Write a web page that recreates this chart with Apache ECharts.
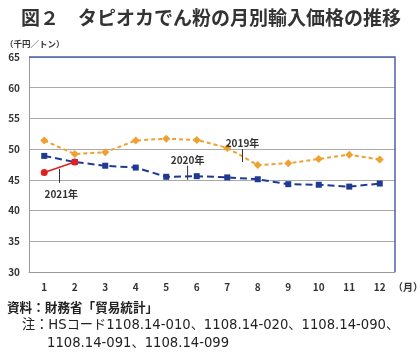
<!DOCTYPE html>
<html><head><meta charset="utf-8">
<script src="https://cdn.jsdelivr.net/npm/echarts@6/dist/echarts.min.js"></script>
<style>html,body{margin:0;padding:0;background:#fff}#c{width:420px;height:354px}</style>
</head><body><div id="c"></div>
<script>
const months = ['1','2','3','4','5','6','7','8','9','10','11','12'];
const y2019 = [51.4, 49.2, 49.5, 51.4, 51.7, 51.5, 50.2, 47.4, 47.7, 48.4, 49.1, 48.3];
const y2020 = [48.9, 47.9, 47.3, 47.0, 45.5, 45.6, 45.4, 45.1, 44.3, 44.2, 43.9, 44.4];
const y2021 = [46.2, 47.9];
const yTicks = [30, 35, 40, 45, 50, 55, 60, 65];
const title = '図２　タピオカでん粉の月別輸入価格の推移';
const unit = '（千円／トン）';
const source = '資料：財務省「貿易統計」';
const note1 = '注：HSコード1108.14-010、1108.14-020、1108.14-090、';
const note2 = '1108.14-091、1108.14-099';
const notes = [
  {text:'2019年', idx:6.5, v1:50.0, v2:47.9},
  {text:'2020年', idx:4.7, v1:47.3, v2:45.0},
  {text:'2021年', idx:0.5, v1:46.8, v2:44.5}
];
const FONT = '"Noto Sans CJK JP","Noto Sans",sans-serif';
const FOOT = '"DejaVu Sans","Noto Sans CJK JP",sans-serif';
const chart = echarts.init(document.getElementById('c'));
chart.setOption({
  animation:false,
  grid:{left:29,right:25,top:57,bottom:82},
  xAxis:{type:'category',data:months,boundaryGap:true,
    axisLine:{lineStyle:{color:'#999',width:1}},axisTick:{show:false},
    axisLabel:{color:'#333',fontSize:10,fontWeight:'bold',fontFamily:FONT,margin:10}},
  yAxis:{type:'value',min:yTicks[0],max:yTicks[yTicks.length-1],interval:5,
    axisLine:{show:true,lineStyle:{color:'#999'}},axisTick:{show:false},
    splitLine:{lineStyle:{color:'#aaa',width:1}},
    axisLabel:{color:'#333',fontSize:10,fontWeight:'bold',fontFamily:FONT,margin:9}},
  series:[
    {name:'2019',type:'line',data:y2019,symbol:'diamond',symbolSize:8,
     itemStyle:{color:'#f0a030'},lineStyle:{color:'#f0a030',width:2,type:[4,3]}},
    {name:'2020',type:'line',data:y2020,symbol:'rect',symbolSize:6,
     itemStyle:{color:'#1f3a93'},lineStyle:{color:'#1f3a93',width:2,type:[7,4]}},
    {name:'2021',type:'line',data:y2021,symbol:'circle',symbolSize:7,
     itemStyle:{color:'#e02020'},lineStyle:{color:'#e02020',width:1.5}}
  ]
});
const g = [];
const p65a = chart.convertToPixel({xAxisIndex:0,yAxisIndex:0},[0,65]);
const p30b = chart.convertToPixel({xAxisIndex:0,yAxisIndex:0},[11,30]);
const left = 29, right = 420-25;
g.push({type:'polyline',shape:{points:[[left,p65a[1]],[right,p65a[1]],[right,p30b[1]]]},style:{stroke:'#5060b0',lineWidth:1.5,fill:null},z:10});
notes.forEach(n=>{
  const a = chart.convertToPixel({xAxisIndex:0,yAxisIndex:0},[0,n.v1]);
  const b = chart.convertToPixel({xAxisIndex:0,yAxisIndex:0},[0,n.v2]);
  const x0 = chart.convertToPixel({xAxisIndex:0},0);
  const x1 = chart.convertToPixel({xAxisIndex:0},1);
  const x = x0 + (x1-x0)*n.idx;
  g.push({type:'line',shape:{x1:x,y1:a[1],x2:x,y2:b[1]},style:{stroke:'#333',lineWidth:1},z:10});
  if(n.text==='2021年'){
    g.push({type:'text',style:{text:n.text,x:x-15,y:b[1]+6,fill:'#333',font:'bold 10px '+FONT,textVerticalAlign:'top'},z:10});
  } else {
    g.push({type:'text',style:{text:n.text,x:x,y:a[1]-1,fill:'#333',font:'bold 10px '+FONT,textAlign:'center',textVerticalAlign:'bottom'},z:10});
  }
});
g.push({type:'text',style:{text:title,x:211,y:18,fill:'#333',font:'bold 19px '+FONT,textAlign:'center',textVerticalAlign:'middle'}});
g.push({type:'text',style:{text:unit,x:5,y:44,fill:'#333',font:'bold 8.5px '+FONT,textVerticalAlign:'middle'}});
g.push({type:'text',style:{text:'（月）',x:393,y:287,fill:'#333',font:'bold 10px '+FONT,textVerticalAlign:'middle'}});
g.push({type:'text',style:{text:source,x:7,y:307,fill:'#222',font:'bold 12.6px '+FONT,textVerticalAlign:'middle'}});
g.push({type:'text',style:{text:note1,x:22,y:326,fill:'#222',font:'13.2px '+FOOT,textVerticalAlign:'middle'}});
g.push({type:'text',style:{text:note2,x:47,y:344,fill:'#222',font:'13.2px '+FOOT,textVerticalAlign:'middle'}});
chart.setOption({graphic:g});
</script></body></html>
